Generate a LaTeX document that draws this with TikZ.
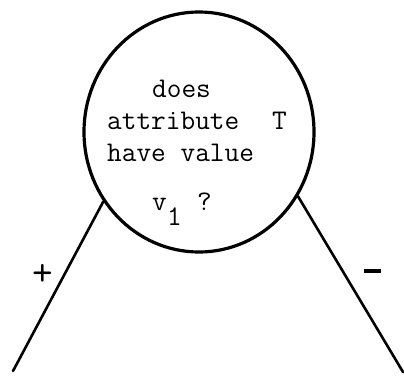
\documentclass[tikz,border=0pt]{standalone}
\usetikzlibrary{shapes.geometric}
\begin{document}
\begin{tikzpicture}[x=1pt,y=-1pt,
  lbl/.style={anchor=base west,inner sep=0pt,font=\ttfamily\fontsize{28.5}{30}\selectfont},
  edge/.style={line width=2.6pt,line cap=round}]
\useasboundingbox (0,0) rectangle (404,380);
\node[ellipse,draw,line width=3.2pt,minimum width=230pt,minimum height=240pt,inner sep=0pt] (q) at (199,132) {};
\node[lbl] (t1) at (152,97) {does};
\node[lbl] (t2) at (107,129) {attribute};
\node[lbl] (t3) at (272,129) {T};
\node[lbl] (t4) at (107,161) {have value};
\node[lbl] (t5) at (152,210) {v};
\node[lbl] (t6) at (167,225) {1};
\node[lbl] (t7) at (197,210) {?};
\coordinate (lend) at (13,371);
\coordinate (rend) at (403,372);
\draw[edge] (q.216.5) -- (lend);
\draw[edge] (q.327.9) -- (rend);
\node[inner sep=0pt,font=\ttfamily\fontsize{40}{40}\selectfont] (plus) at (43,275) {+};
\node[inner sep=0pt] (minus) at (372,271) {\rule{17pt}{4pt}};
\end{tikzpicture}
\end{document}
